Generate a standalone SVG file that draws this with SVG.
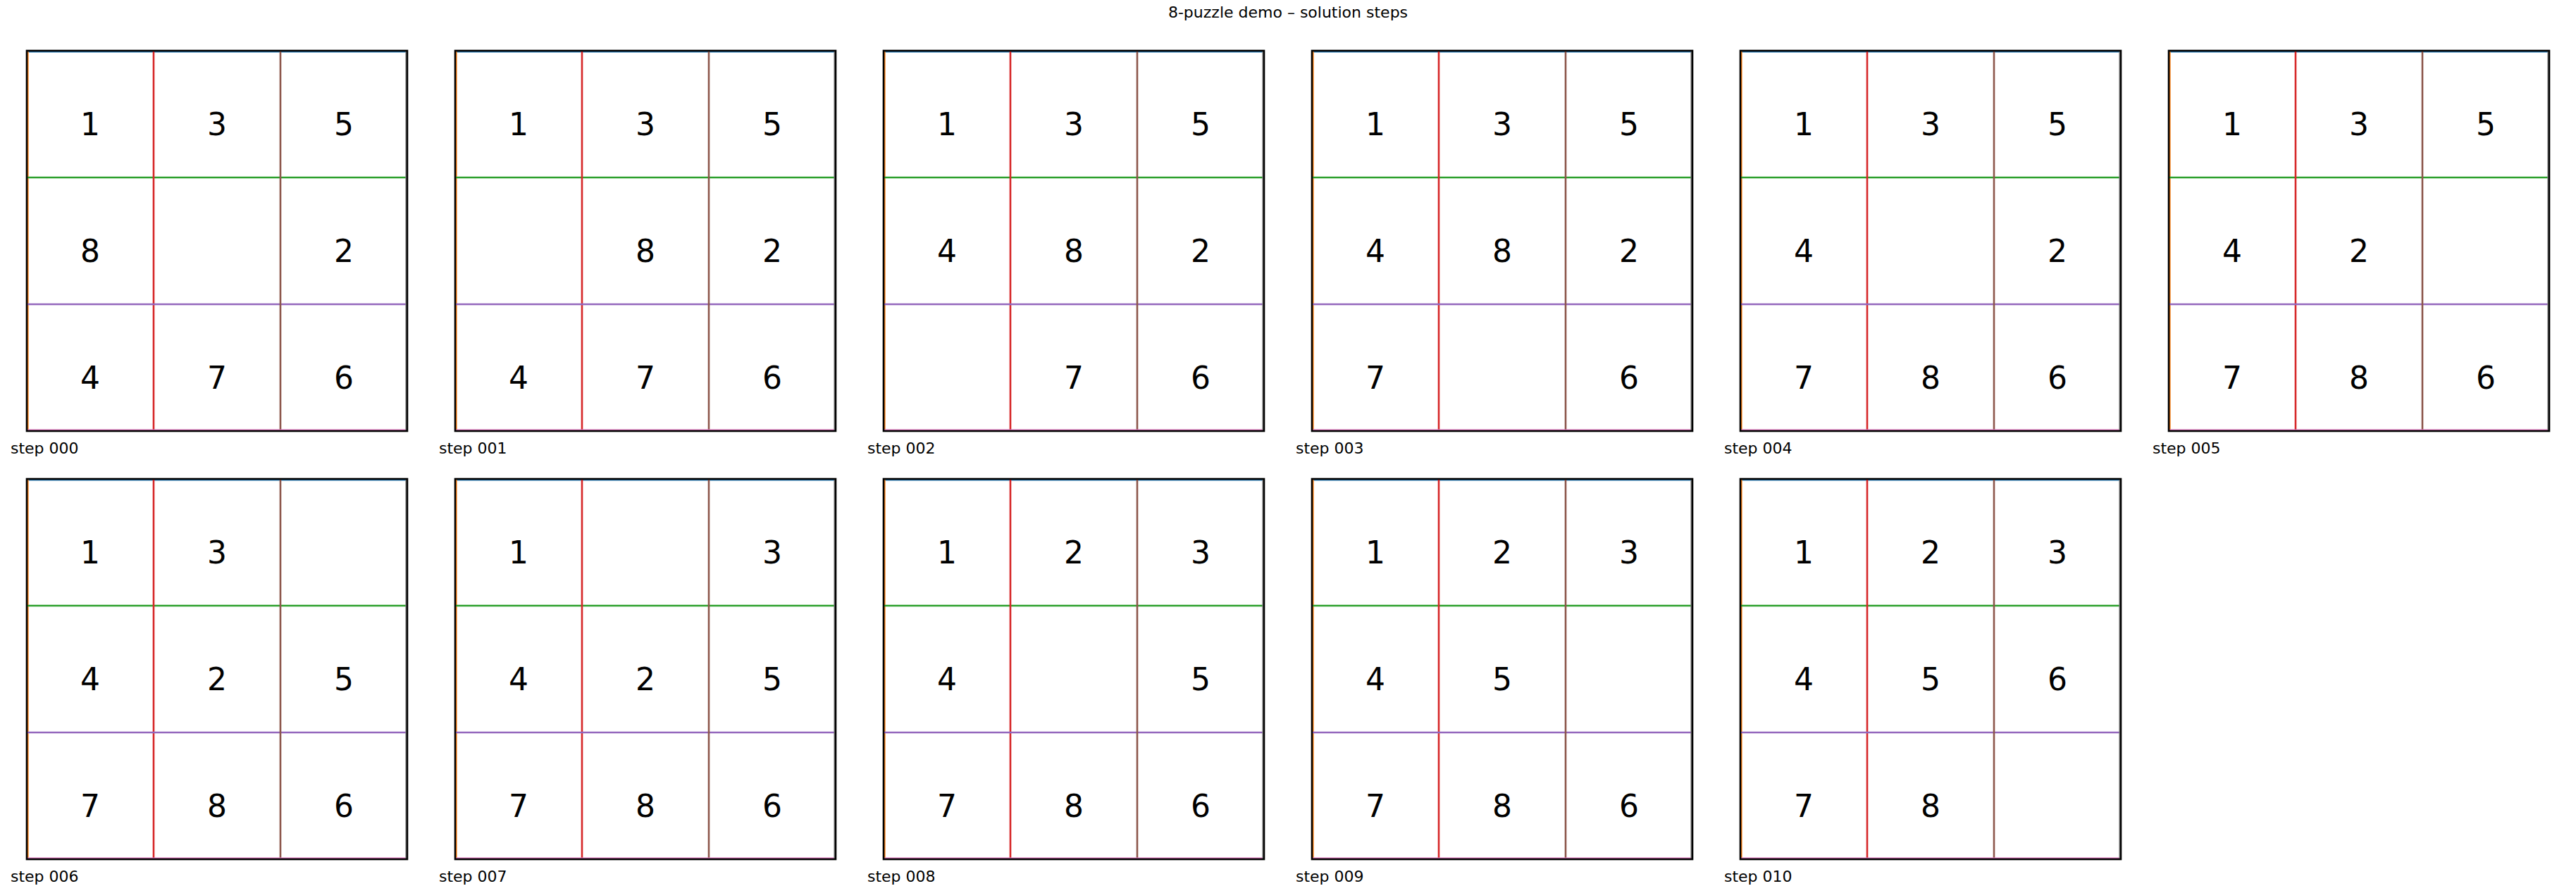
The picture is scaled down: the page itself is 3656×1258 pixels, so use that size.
<svg xmlns="http://www.w3.org/2000/svg" xmlns:xlink="http://www.w3.org/1999/xlink" width="3656" height="1258" viewBox="0 0 3656 1258">
<style>
.num{font-family:"DejaVu Sans","Liberation Sans",sans-serif;font-size:44px;fill:#000;text-anchor:middle}
.lbl{font-family:"DejaVu Sans","Liberation Sans",sans-serif;font-size:22px;fill:#000}
.title{font-family:"DejaVu Sans","Liberation Sans",sans-serif;font-size:22px;fill:#000;text-anchor:middle}
.gl{stroke-width:2.6;fill:none}
</style>
<defs>
<g id="board">
<rect x="0" y="0" width="540" height="540" fill="#fff"/>
<line class="gl" x1="0" y1="1.3" x2="540" y2="1.3" stroke="#1f77b4"/>
<line class="gl" x1="1.3" y1="0" x2="1.3" y2="540" stroke="#ff7f0e"/>
<line class="gl" x1="0" y1="180" x2="540" y2="180" stroke="#2ca02c"/>
<line class="gl" x1="180" y1="0" x2="180" y2="540" stroke="#d62728"/>
<line class="gl" x1="0" y1="360" x2="540" y2="360" stroke="#9467bd"/>
<line class="gl" x1="360" y1="0" x2="360" y2="540" stroke="#8c564b"/>
<line class="gl" x1="0" y1="538.7" x2="540" y2="538.7" stroke="#e377c2"/>
<line class="gl" x1="538.7" y1="0" x2="538.7" y2="540" stroke="#7f7f7f"/>
<rect x="0" y="0" width="540" height="540" fill="none" stroke="#000" stroke-width="2.6"/>
</g>
</defs>
<rect width="3656" height="1258" fill="#fff"/>
<text class="title" x="1828" y="25">8-puzzle demo – solution steps</text>

<g id="step000" transform="translate(38,72)">
<use href="#board" xlink:href="#board"/>
<text class="num" x="90" y="120">1</text><text class="num" x="270" y="120">3</text><text class="num" x="450" y="120">5</text>
<text class="num" x="90" y="300">8</text><text class="num" x="450" y="300">2</text>
<text class="num" x="90" y="480">4</text><text class="num" x="270" y="480">7</text><text class="num" x="450" y="480">6</text>
<text class="lbl" x="-23" y="572">step 000</text>
</g>

<g id="step001" transform="translate(646,72)">
<use href="#board" xlink:href="#board"/>
<text class="num" x="90" y="120">1</text><text class="num" x="270" y="120">3</text><text class="num" x="450" y="120">5</text>
<text class="num" x="270" y="300">8</text><text class="num" x="450" y="300">2</text>
<text class="num" x="90" y="480">4</text><text class="num" x="270" y="480">7</text><text class="num" x="450" y="480">6</text>
<text class="lbl" x="-23" y="572">step 001</text>
</g>

<g id="step002" transform="translate(1254,72)">
<use href="#board" xlink:href="#board"/>
<text class="num" x="90" y="120">1</text><text class="num" x="270" y="120">3</text><text class="num" x="450" y="120">5</text>
<text class="num" x="90" y="300">4</text><text class="num" x="270" y="300">8</text><text class="num" x="450" y="300">2</text>
<text class="num" x="270" y="480">7</text><text class="num" x="450" y="480">6</text>
<text class="lbl" x="-23" y="572">step 002</text>
</g>

<g id="step003" transform="translate(1862,72)">
<use href="#board" xlink:href="#board"/>
<text class="num" x="90" y="120">1</text><text class="num" x="270" y="120">3</text><text class="num" x="450" y="120">5</text>
<text class="num" x="90" y="300">4</text><text class="num" x="270" y="300">8</text><text class="num" x="450" y="300">2</text>
<text class="num" x="90" y="480">7</text><text class="num" x="450" y="480">6</text>
<text class="lbl" x="-23" y="572">step 003</text>
</g>

<g id="step004" transform="translate(2470,72)">
<use href="#board" xlink:href="#board"/>
<text class="num" x="90" y="120">1</text><text class="num" x="270" y="120">3</text><text class="num" x="450" y="120">5</text>
<text class="num" x="90" y="300">4</text><text class="num" x="450" y="300">2</text>
<text class="num" x="90" y="480">7</text><text class="num" x="270" y="480">8</text><text class="num" x="450" y="480">6</text>
<text class="lbl" x="-23" y="572">step 004</text>
</g>

<g id="step005" transform="translate(3078,72)">
<use href="#board" xlink:href="#board"/>
<text class="num" x="90" y="120">1</text><text class="num" x="270" y="120">3</text><text class="num" x="450" y="120">5</text>
<text class="num" x="90" y="300">4</text><text class="num" x="270" y="300">2</text>
<text class="num" x="90" y="480">7</text><text class="num" x="270" y="480">8</text><text class="num" x="450" y="480">6</text>
<text class="lbl" x="-23" y="572">step 005</text>
</g>

<g id="step006" transform="translate(38,680)">
<use href="#board" xlink:href="#board"/>
<text class="num" x="90" y="120">1</text><text class="num" x="270" y="120">3</text>
<text class="num" x="90" y="300">4</text><text class="num" x="270" y="300">2</text><text class="num" x="450" y="300">5</text>
<text class="num" x="90" y="480">7</text><text class="num" x="270" y="480">8</text><text class="num" x="450" y="480">6</text>
<text class="lbl" x="-23" y="572">step 006</text>
</g>

<g id="step007" transform="translate(646,680)">
<use href="#board" xlink:href="#board"/>
<text class="num" x="90" y="120">1</text><text class="num" x="450" y="120">3</text>
<text class="num" x="90" y="300">4</text><text class="num" x="270" y="300">2</text><text class="num" x="450" y="300">5</text>
<text class="num" x="90" y="480">7</text><text class="num" x="270" y="480">8</text><text class="num" x="450" y="480">6</text>
<text class="lbl" x="-23" y="572">step 007</text>
</g>

<g id="step008" transform="translate(1254,680)">
<use href="#board" xlink:href="#board"/>
<text class="num" x="90" y="120">1</text><text class="num" x="270" y="120">2</text><text class="num" x="450" y="120">3</text>
<text class="num" x="90" y="300">4</text><text class="num" x="450" y="300">5</text>
<text class="num" x="90" y="480">7</text><text class="num" x="270" y="480">8</text><text class="num" x="450" y="480">6</text>
<text class="lbl" x="-23" y="572">step 008</text>
</g>

<g id="step009" transform="translate(1862,680)">
<use href="#board" xlink:href="#board"/>
<text class="num" x="90" y="120">1</text><text class="num" x="270" y="120">2</text><text class="num" x="450" y="120">3</text>
<text class="num" x="90" y="300">4</text><text class="num" x="270" y="300">5</text>
<text class="num" x="90" y="480">7</text><text class="num" x="270" y="480">8</text><text class="num" x="450" y="480">6</text>
<text class="lbl" x="-23" y="572">step 009</text>
</g>

<g id="step010" transform="translate(2470,680)">
<use href="#board" xlink:href="#board"/>
<text class="num" x="90" y="120">1</text><text class="num" x="270" y="120">2</text><text class="num" x="450" y="120">3</text>
<text class="num" x="90" y="300">4</text><text class="num" x="270" y="300">5</text><text class="num" x="450" y="300">6</text>
<text class="num" x="90" y="480">7</text><text class="num" x="270" y="480">8</text>
<text class="lbl" x="-23" y="572">step 010</text>
</g>
</svg>
